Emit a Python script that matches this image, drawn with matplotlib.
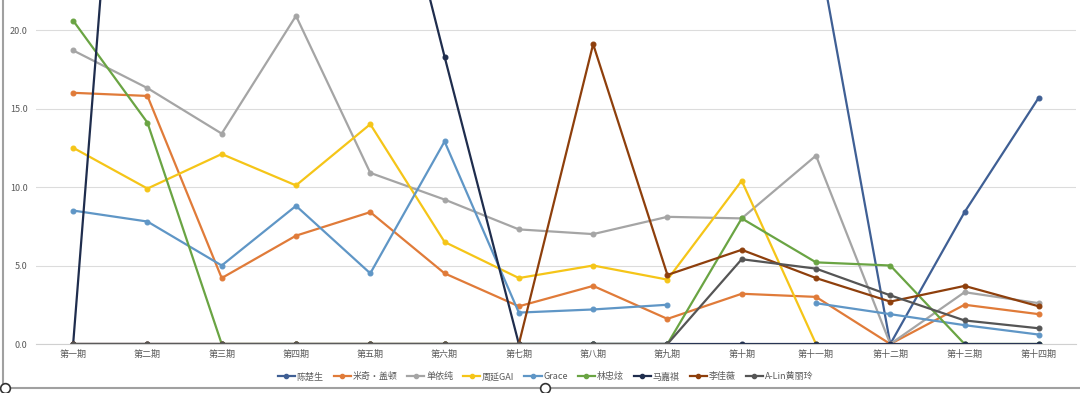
import numpy as np
import matplotlib
matplotlib.use('Agg')
import matplotlib.pyplot as plt
from matplotlib.lines import Line2D

plt.rcParams['font.family'] = ['Noto Sans CJK SC', 'DejaVu Sans']
plt.rcParams['axes.unicode_minus'] = False

nan = np.nan

# 期数
episodes = ['第一期', '第二期', '第三期', '第四期', '第五期', '第六期', '第七期',
            '第八期', '第九期', '第十期', '第十一期', '第十二期', '第十三期', '第十四期']

# 各歌手数据（从图上估读，超出图框的值为估计）
chen_chusheng = [0, 0, 0, 0, 0, 0, 0, 0, 0, nan, 26.0, 0, 8.4, 15.7]
mickey_guyton = [16.0, 15.8, 4.2, 6.9, 8.4, 4.5, 2.4, 3.7, 1.6, 3.2, 3.0, 0, 2.5, 1.9]
shan_yichun = [18.7, 16.3, 13.4, 20.9, 10.9, 9.2, 7.3, 7.0, 8.1, 8.0, 12.0, 0, 3.3, 2.6]
zhou_yan_gai = [12.5, 9.9, 12.1, 10.1, 14.0, 6.5, 4.2, 5.0, 4.1, 10.4, 0, nan, nan, nan]
grace = [8.5, 7.8, 5.0, 8.8, 4.5, 12.9, 2.0, 2.2, 2.5, nan, 2.6, 1.9, 1.2, 0.6]
lin_zhixuan = [20.6, 14.1, 0, 0, 0, 0, 0, 0, 0, 8.0, 5.2, 5.0, 0, 0]
ma_jiaqi = [0, 60.0, 52.0, 45.0, 37.0, 18.3, 0, 0, 0, 0, 0, 0, 0, 0]
li_jiawei = [0, 0, 0, 0, 0, 0, 0, 19.1, 4.4, 6.0, 4.2, 2.7, 3.7, 2.4]
alin = [0, 0, 0, 0, 0, 0, 0, 0, 0, 5.4, 4.8, 3.1, 1.5, 1.0]

names = ['陈楚生', '米奇·盖顿', '单依纯', '周延GAI', 'Grace', '林忠炫', '马嘉祺', '李佳薇', 'A-Lin黄丽玲']
series = [chen_chusheng, mickey_guyton, shan_yichun, zhou_yan_gai, grace,
          lin_zhixuan, ma_jiaqi, li_jiawei, alin]
colors = ['#3f5f94', '#e07b39', '#a5a5a5', '#f5c518', '#5f96c6',
          '#6aa443', '#1f2d4d', '#8e3f0c', '#555555']

fig = plt.figure(figsize=(10.8, 3.93), dpi=100)
ax = fig.add_axes([36 / 1080, 49 / 393, 1040 / 1080, 344 / 393])

x = np.arange(len(episodes))
for name, vals, c in zip(names, series, colors):
    ax.plot(x, vals, color=c, lw=1.6, marker='o', markersize=3.5,
            markeredgewidth=0.8, label=name)

ax.set_xlim(-0.5, len(episodes) - 0.5)
ax.set_ylim(0, 344 / 15.7)
ax.set_yticks([0, 5, 10, 15, 20])
ax.set_yticklabels(['%.1f' % v for v in [0, 5, 10, 15, 20]])
ax.set_xticks(x)
ax.set_xticklabels(episodes)
ax.tick_params(axis='both', length=0, labelsize=6.5, colors='#595959')
ax.tick_params(axis='x', pad=4)
ax.tick_params(axis='y', pad=6)
ax.grid(axis='y', color='#dcdcdc', lw=0.8)
ax.set_axisbelow(True)
for s in ['top', 'right', 'left']:
    ax.spines[s].set_visible(False)
ax.spines['bottom'].set_color('#d0d0d0')

handles = [Line2D([0], [0], color=c, lw=1.6, marker='o', markersize=3) for c in colors]
fig.legend(handles, names, loc='center', bbox_to_anchor=(0.505, 0.041), ncol=9,
           frameon=False, fontsize=6.5, handlelength=1.9, columnspacing=1.1,
           handletextpad=0.2, labelcolor='#595959')

# 截图边框与控制点
fig.add_artist(Line2D([3 / 1080, 3 / 1080], [1, 5 / 393], color='#a0a0a0', lw=1.5,
                      transform=fig.transFigure))
fig.add_artist(Line2D([3 / 1080, 1], [5 / 393, 5 / 393], color='#a0a0a0', lw=1.5,
                      transform=fig.transFigure))
fig.add_artist(Line2D([5 / 1080, 545 / 1080], [5 / 393, 5 / 393], lw=0, marker='o',
                      markersize=7, markerfacecolor='white', markeredgecolor='#333333',
                      markeredgewidth=1.2, transform=fig.transFigure))

fig.savefig('out.png', dpi=100)
